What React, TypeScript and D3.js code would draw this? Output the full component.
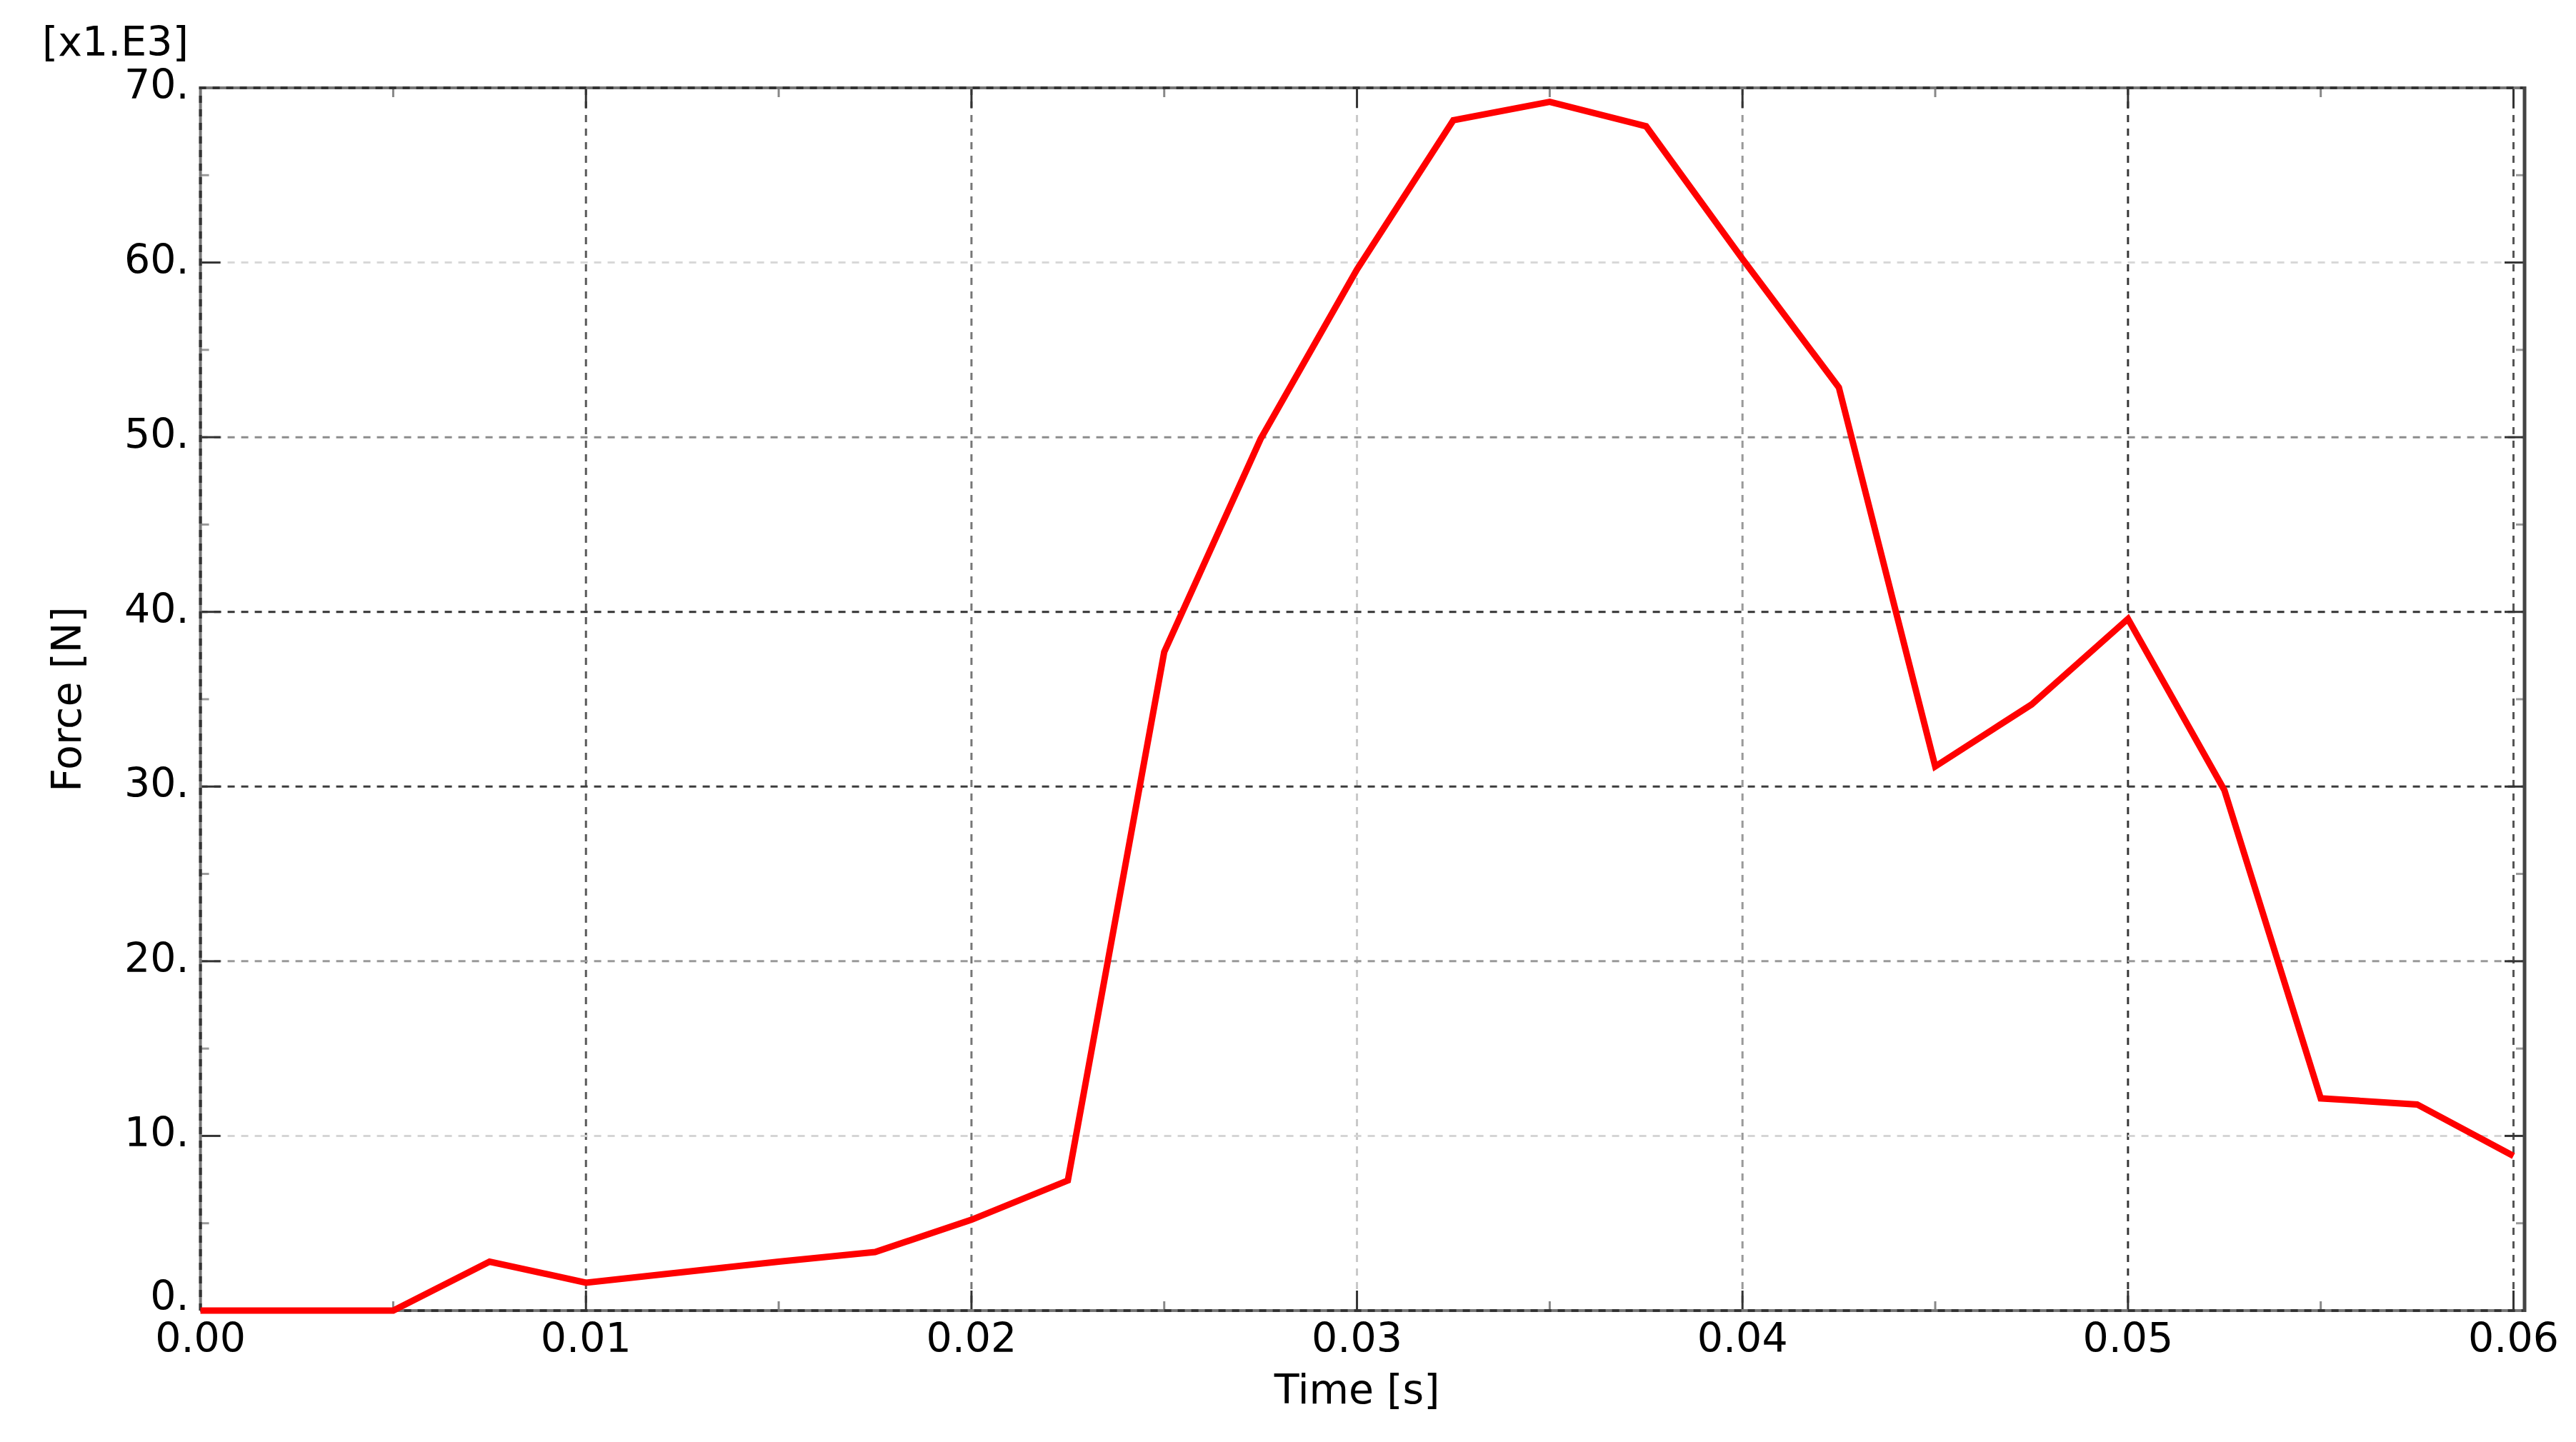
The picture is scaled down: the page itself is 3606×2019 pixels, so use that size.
import { useEffect, useRef } from "react";
import * as d3 from "d3";

// force history, sampled every 2.5 ms
const times = [
  0, 0.0025, 0.005, 0.0075, 0.01, 0.0125, 0.015, 0.0175, 0.02, 0.0225, 0.025,
  0.0275, 0.03, 0.0325, 0.035, 0.0375, 0.04, 0.0425, 0.045, 0.0475, 0.05,
  0.0525, 0.055, 0.0575, 0.06,
];
const forces = [
  0, 0, 0, 2.8, 1.6, 2.2, 2.8, 3.35, 5.2, 7.45, 37.7, 49.9, 59.6, 68.15, 69.2,
  67.8, 60.2, 52.85, 31.15, 34.7, 39.6, 29.8, 12.15, 11.8, 8.85,
];

const xTicks = [0, 0.01, 0.02, 0.03, 0.04, 0.05, 0.06];
const xMinorTicks = [0.005, 0.015, 0.025, 0.035, 0.045, 0.055];
const yTicks = [0, 10, 20, 30, 40, 50, 60, 70];
const yMinorTicks = [5, 15, 25, 35, 45, 55, 65];

const xTitle = "Time [s]";
const yTitle = "Force [N]";
const yScaleNote = "[x1.E3]";

// greys of the grid lines as they come out in the raster
const xGridGrey = ["#555", "#5a5a5a", "#777", "#c8c8c8", "#999", "#383838", "#555"];
const yGridGrey = ["#555", "#d5d5d5", "#999", "#3c3c3c", "#333", "#8c8c8c", "#d8d8d8", "#555"];

const W = 3606;
const H = 2019;
const FONT = "'DejaVu Sans', Verdana, sans-serif";

const ForceChart = () => {
  const svgRef = useRef(null);

  useEffect(() => {
    document.body.style.margin = "0";
    const svg = d3.select(svgRef.current);
    svg.selectAll("*").remove();

    const x = d3.scaleLinear().domain([0, 0.06]).range([280.6, 3518.5]);
    const y = d3.scaleLinear().domain([0, 70]).range([1835, 123]);
    const left = x(0);
    const right = 3534;
    const top = y(70);
    const bottom = y(0);

    // grid
    const grid = svg.append("g");
    grid
      .selectAll(".vg")
      .data(xTicks.slice(1))
      .join("line")
      .attr("x1", (d) => x(d))
      .attr("x2", (d) => x(d))
      .attr("y1", top)
      .attr("y2", bottom)
      .attr("stroke", (d, i) => xGridGrey[i + 1])
      .attr("stroke-width", 3)
      .attr("stroke-dasharray", "10,9");
    grid
      .selectAll(".hg")
      .data(yTicks.slice(1, -1))
      .join("line")
      .attr("x1", left)
      .attr("x2", right)
      .attr("y1", (d) => y(d))
      .attr("y2", (d) => y(d))
      .attr("stroke", (d, i) => yGridGrey[i + 1])
      .attr("stroke-width", 3)
      .attr("stroke-dasharray", "10,9");

    // ticks, pointing inwards on all four sides
    const ticks = svg.append("g").attr("stroke-width", 3);
    const tickSets = [
      { vals: xTicks, len: 28, col: "#333" },
      { vals: xMinorTicks, len: 13, col: "#888" },
    ];
    tickSets.forEach(({ vals, len, col }) => {
      ticks
        .append("g")
        .selectAll("line")
        .data(vals)
        .join("line")
        .attr("x1", (d) => x(d))
        .attr("x2", (d) => x(d))
        .attr("y1", bottom)
        .attr("y2", bottom - len)
        .attr("stroke", col);
      ticks
        .append("g")
        .selectAll("line")
        .data(vals)
        .join("line")
        .attr("x1", (d) => x(d))
        .attr("x2", (d) => x(d))
        .attr("y1", top)
        .attr("y2", top + len)
        .attr("stroke", col);
    });
    const yTickSets = [
      { vals: yTicks, len: 28, col: "#333" },
      { vals: yMinorTicks, len: 12, col: "#999" },
    ];
    yTickSets.forEach(({ vals, len, col }) => {
      ticks
        .append("g")
        .selectAll("line")
        .data(vals)
        .join("line")
        .attr("x1", left)
        .attr("x2", left + len)
        .attr("y1", (d) => y(d))
        .attr("y2", (d) => y(d))
        .attr("stroke", col);
      ticks
        .append("g")
        .selectAll("line")
        .data(vals)
        .join("line")
        .attr("x1", right)
        .attr("x2", right - len)
        .attr("y1", (d) => y(d))
        .attr("y2", (d) => y(d))
        .attr("stroke", col);
    });

    // frame
    const frame = svg.append("g").attr("fill", "none");
    frame
      .append("path")
      .attr("d", `M${left},${bottom}V${top}H${right}M${left},${bottom}H${right}`)
      .attr("stroke", "#777")
      .attr("stroke-width", 4);
    frame
      .append("path")
      .attr("d", `M${left},${bottom}V${top}H${right}M${left},${bottom}H${right}`)
      .attr("stroke", "#333")
      .attr("stroke-width", 4)
      .attr("stroke-dasharray", "10,9");
    frame
      .append("line")
      .attr("x1", right)
      .attr("x2", right)
      .attr("y1", top - 2)
      .attr("y2", bottom + 2)
      .attr("stroke", "#444")
      .attr("stroke-width", 5);

    // curve
    const line = d3
      .line<number>()
      .x((d, i) => x(times[i]))
      .y((d) => y(d));
    svg
      .append("path")
      .datum(forces)
      .attr("d", line)
      .attr("fill", "none")
      .attr("stroke", "#ff0000")
      .attr("stroke-width", 9)
      .attr("stroke-linejoin", "miter");

    // labels
    const text = svg
      .append("g")
      .attr("font-family", FONT)
      .attr("font-size", 57)
      .attr("fill", "#000");
    text
      .selectAll(".xl")
      .data(xTicks)
      .join("text")
      .attr("x", (d) => x(d))
      .attr("y", bottom + 58)
      .attr("text-anchor", "middle")
      .text((d) => d3.format(".2f")(d));
    // the lowest label sits on top of the axis, clear of the time labels
    text
      .selectAll(".yl")
      .data(yTicks)
      .join("text")
      .attr("x", left - 16)
      .attr("y", (d) => (d === 0 ? y(d) - 1 : y(d) + 15))
      .attr("text-anchor", "end")
      .text((d) => `${d}.`);
    text
      .append("text")
      .attr("x", (left + x(0.06)) / 2)
      .attr("y", 1965)
      .attr("text-anchor", "middle")
      .text(xTitle);
    text
      .append("text")
      .attr("transform", `translate(113,${(top + bottom) / 2}) rotate(-90)`)
      .attr("text-anchor", "middle")
      .text(yTitle);
    text.append("text").attr("x", 59).attr("y", 78).text(yScaleNote);
  }, []);

  return (
    <svg
      ref={svgRef}
      width={W}
      height={H}
      style={{ position: "absolute", left: 0, top: 0, background: "#fff" }}
    ></svg>
  );
};

export default function App() {
  return <ForceChart />;
}
